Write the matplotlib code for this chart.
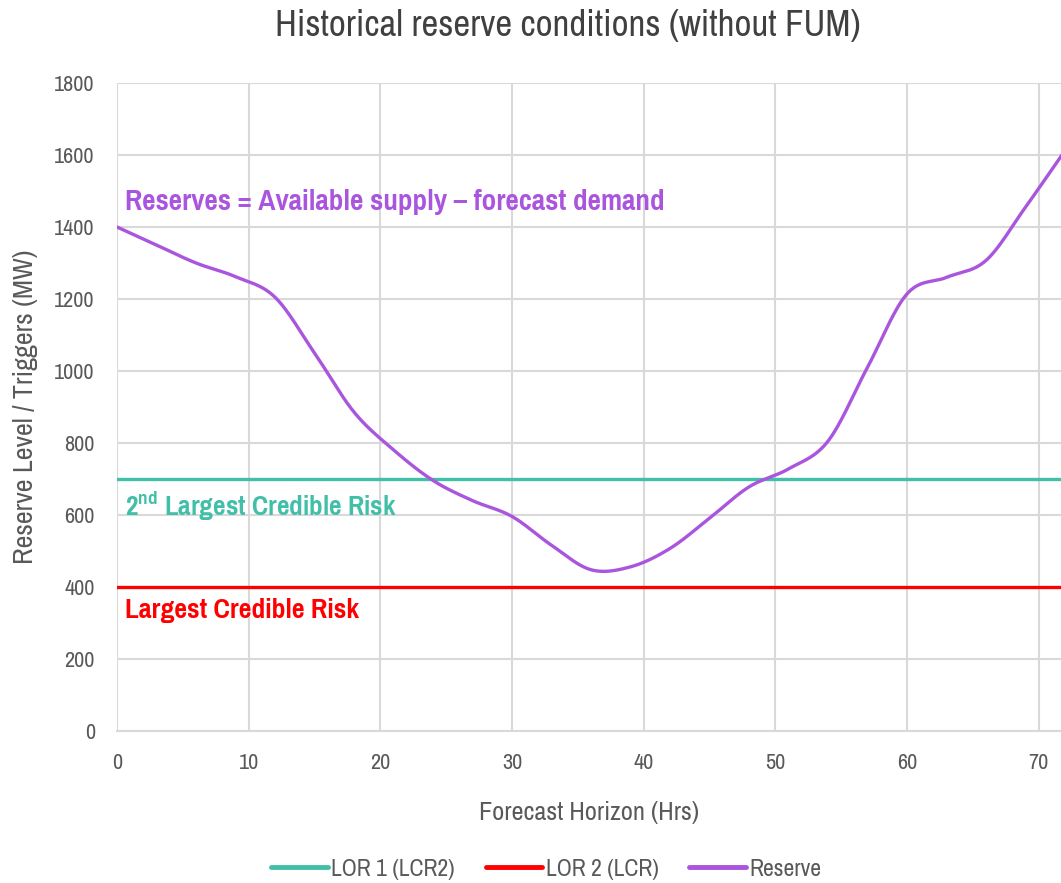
import numpy as np
import matplotlib
matplotlib.use("Agg")
import matplotlib.pyplot as plt
from matplotlib import font_manager as fm

# ---- data ----
hours = [0, 3, 6, 9, 12, 15, 18, 21, 24, 27, 30, 33, 36, 39, 42, 45, 48, 51, 54, 57, 60, 63, 66, 69, 72]
reserve = [1400, 1350, 1300, 1262, 1205, 1050, 886, 781, 696, 640, 596, 516, 448, 456, 507, 591, 678,
           728, 805, 1010, 1214, 1260, 1307, 1455, 1612]
lor1_level = 700
lor2_level = 400
x_ticks = [0, 10, 20, 30, 40, 50, 60, 70]
y_ticks = [0, 200, 400, 600, 800, 1000, 1200, 1400, 1600, 1800]

fonts = fm.fontManager.ttflist


def first_with_weight(prefs, bold):
    for p in prefs:
        for f in fonts:
            if f.name == p:
                w = f.weight if isinstance(f.weight, int) else (700 if 'bold' in str(f.weight) else 400)
                if (bold and w >= 700) or (not bold and w == 400):
                    return p
    return 'Liberation Sans'


REG = first_with_weight(['Archivo Narrow', 'Pragati Narrow', 'Roboto Condensed', 'PT Sans Narrow'], False)
BOLD = first_with_weight(['Pragati Narrow', 'Archivo Narrow', 'Roboto Condensed', 'PT Sans Narrow',
                          'Encode Sans Condensed', 'Asap Condensed'], True)
plt.rcParams['font.family'] = [REG, 'DejaVu Sans']
plt.rcParams['mathtext.fontset'] = 'custom'
plt.rcParams['mathtext.rm'] = f'{BOLD}:bold'
plt.rcParams['mathtext.bf'] = f'{BOLD}:bold'

C_TEAL = '#41BFA8'
C_RED = '#FF0000'
C_PURPLE = '#AA55DD'
C_TEXT = '#595959'
C_GRID = '#D9D9D9'


def excel_smooth(xs, ys, n=30):
    P = np.column_stack([np.asarray(xs, float), np.asarray(ys, float)])
    out = []
    for i in range(len(P) - 1):
        p0 = P[i - 1] if i > 0 else P[i]
        p1, p2 = P[i], P[i + 1]
        p3 = P[i + 2] if i + 2 < len(P) else P[i + 1]
        c1 = p1 + (p2 - p0) / 6
        c2 = p2 - (p3 - p1) / 6
        t = np.linspace(0, 1, n)[:, None]
        seg = (1 - t) ** 3 * p1 + 3 * (1 - t) ** 2 * t * c1 + 3 * (1 - t) * t ** 2 * c2 + t ** 3 * p2
        out.append(seg if i == 0 else seg[1:])
    out = np.vstack(out)
    return out[:, 0], out[:, 1]


fig = plt.figure(figsize=(10.61, 8.83), dpi=100)
ax = fig.add_axes([117 / 1061, 1 - 731 / 883, 1 - 117 / 1061, (731 - 83) / 883])

sx, sy = excel_smooth(hours, reserve)
ax.axhline(lor1_level, color=C_TEAL, lw=2.4, label='LOR 1 (LCR2)', zorder=3)
ax.axhline(lor2_level, color=C_RED, lw=2.4, label='LOR 2 (LCR)', zorder=3)
ax.plot(sx, sy, color=C_PURPLE, lw=2.4, label='Reserve', zorder=4, solid_capstyle='round')

ax.set_xlim(0, 71.7)
ax.set_ylim(0, 1800)
ax.set_xticks(x_ticks)
ax.set_yticks(y_ticks)
ax.grid(True, color=C_GRID, lw=1.5)
ax.set_axisbelow(True)
for s in ['top', 'right', 'left']:
    ax.spines[s].set_visible(False)
ax.spines['bottom'].set_color(C_GRID)
ax.spines['bottom'].set_linewidth(1.5)
ax.tick_params(length=0, labelsize=16, labelcolor=C_TEXT, pad=16)
ax.tick_params(axis='x', pad=16)

xl = ax.set_xlabel('Forecast Horizon (Hrs)', fontsize=19, color=C_TEXT, labelpad=20)
yl = ax.set_ylabel('Reserve Level / Triggers (MW)', fontsize=20, color=C_TEXT, labelpad=12)
ti = fig.text(0.535, 1 - 26 / 883, 'Historical reserve conditions (without FUM)', fontsize=26,
              color='#404040', ha='center', va='center')

t1 = ax.text(0.6, 1470, 'Reserves = Available supply – forecast demand', color=C_PURPLE,
             fontsize=19, fontweight='bold', family=BOLD, va='center', ha='left')
t2 = ax.text(0.6, 625, r'2$^{\mathrm{nd}}$ Largest Credible Risk', color=C_TEAL,
             fontsize=19, fontweight='bold', family=BOLD, va='center', ha='left')
t3 = ax.text(0.6, 335, 'Largest Credible Risk', color=C_RED,
             fontsize=19, fontweight='bold', family=BOLD, va='center', ha='left')

leg = fig.legend(loc='center', bbox_to_anchor=(0.515, 1 - 869 / 883), ncol=3, frameon=False,
                 fontsize=17, handlelength=2.4, columnspacing=1.3, handletextpad=0.15)
for t in leg.get_texts():
    t.set_color(C_TEXT)
for h in leg.get_lines():
    h.set_linewidth(3.5)
    h.set_solid_capstyle('round')

# fit font sizes to the reference's text widths (pixels)
fig.canvas.draw()
r = fig.canvas.get_renderer()


def fit(txt, target, vertical=False):
    bb = txt.get_window_extent(r)
    cur = bb.height if vertical else bb.width
    txt.set_fontsize(txt.get_fontsize() * target / cur)


fit(ti, 584)
fit(xl, 220)
fit(yl, 315, vertical=True)
fit(t1, 541)
fit(t2, 272)
fit(t3, 235)

fig.savefig('out.png', dpi=100)
